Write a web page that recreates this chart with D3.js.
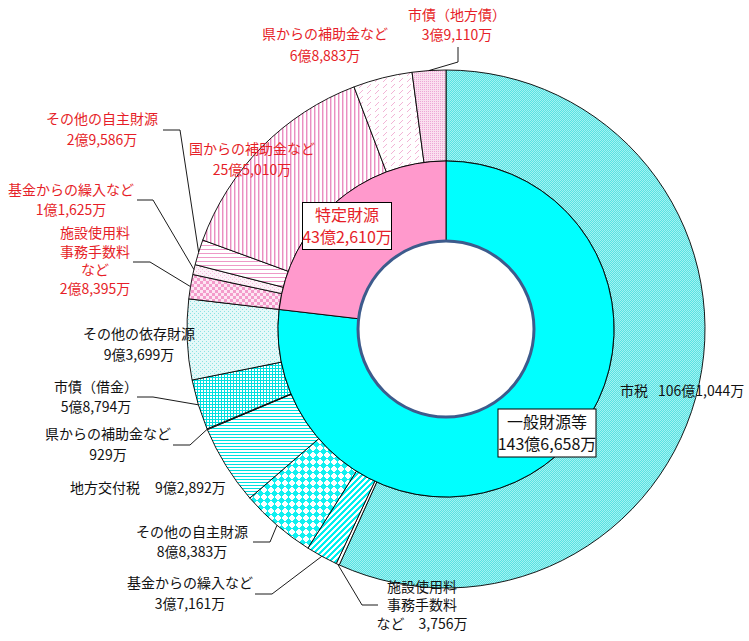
<!DOCTYPE html>
<html lang="ja">
<head>
<meta charset="utf-8">
<title>歳入の内訳</title>
<script src="https://d3js.org/d3.v7.min.js"></script>
<style>
  body { margin: 0; background: #fff; }
  #chart text { font-family: "Noto Sans CJK JP", sans-serif; font-size: 14px; }
</style>
</head>
<body>
<div id="chart"></div>
<script>
"use strict"

// 内側の円 (単位: 億円)
const zaigenNames  = ["一般財源等", "特定財源"];
const zaigenValues = [143.6658, 43.2610];
const zaigenLabels = ["143億6,658万", "43億2,610万"];

// 外側の円 : 12時から時計回り (単位: 億円)
const uchiwakeNames = [
  "市税", "施設使用料\n事務手数料\nなど", "基金からの繰入など", "その他の自主財源",
  "地方交付税", "県からの補助金など", "市債（借金）", "その他の依存財源",
  "施設使用料\n事務手数料\nなど", "基金からの繰入など", "その他の自主財源",
  "国からの補助金など", "県からの補助金など", "市債（地方債）"
];
const uchiwakeValues = [
  106.1044, 0.3756, 3.7161, 8.8383, 9.2892, 0.0929, 5.8794, 9.3699,
  2.8395, 1.1625, 2.9586, 25.5010, 6.8883, 3.9110
];
const uchiwakeLabels = [
  "106億1,044万", "3,756万", "3億7,161万", "8億8,383万", "9億2,892万", "929万",
  "5億8,794万", "9億3,699万", "2億8,395万", "1億1,625万", "2億9,586万",
  "25億5,010万", "6億8,883万", "3億9,110万"
];
const uchiwakeGroup = [0, 0, 0, 0, 0, 0, 0, 0, 1, 1, 1, 1, 1, 1]; // 0=一般財源等 1=特定財源

// 見た目の設定
const W = 749, H = 641;
const cx = 446, cy = 329;
const rHole = 88, rMid = 168, rOut = 259;
const red = "#e61e28", black = "#111";
const zaigenFill = ["#00ffff", "#ff99cc"];
const uchiwakeFill = ["p-shizei", "p-blank", "p-stripe", "p-diamond", "p-hline", "p-blank",
  "p-grid", "p-dots", "p-check", "p-pdots", "p-phline", "p-pvline", "p-pdash", "p-pdense"];

// ラベルの配置 (値のラベルと引出線)
const labelLayout = [
  {i: 0,  x: 620, y: 391, anchor: "start", valueX: 658},
  {i: 1,  x: 422, y: 587, lh: 18.5, join: true},
  {i: 2,  x: 190, y: 583, lh: 21, leader: [[272, 594], [255, 594]]},
  {i: 3,  x: 192, y: 532, lh: 20, leader: [[270, 542], [253, 542]]},
  {i: 4,  x: 70,  y: 488, anchor: "start", valueX: 155},
  {i: 5,  x: 108, y: 434, lh: 21, leader: [[190, 445], [173, 445]]},
  {i: 6,  x: 96,  y: 387, lh: 20, leader: [[153, 397], [137, 397]]},
  {i: 7,  x: 139, y: 334, lh: 21},
  {i: 8,  x: 95,  y: 233, lh: 18.6, leader: [[150, 262], [133, 262]]},
  {i: 9,  x: 71,  y: 190, lh: 20.5, leader: [[153, 200], [137, 200]]},
  {i: 10, x: 102, y: 119, lh: 21, leader: [[180, 130], [163, 130]]},
  {i: 11, x: 252, y: 149, lh: 21},
  {i: 12, x: 325, y: 34,  lh: 22},
  {i: 13, x: 457, y: 15,  lh: 20, leader: [[458, 62], [458, 47]]}
];
// 施設使用料(3,756万)の引出線
const leaderExtra = {1: [[362, 605], [378, 605]]};

const svg = d3.select("#chart").append("svg")
  .attr("width", W).attr("height", H);

// ハッチング模様 : 1ピクセルずつ塗る
const defs = svg.append("defs");
function pat(id, w, h, bg, f) {
  const p = defs.append("pattern").attr("id", id)
    .attr("patternUnits", "userSpaceOnUse").attr("width", w).attr("height", h);
  p.append("rect").attr("width", w).attr("height", h).attr("fill", bg)
    .attr("shape-rendering", "crispEdges");
  for (let y = 0; y < h; y++) {
    for (let x = 0; x < w; x++) {
      const c = f(x, y);
      if (c) p.append("rect").attr("x", x).attr("y", y).attr("width", 1).attr("height", 1)
        .attr("fill", c).attr("shape-rendering", "crispEdges");
    }
  }
}
const cyan = "#00e0e0", pink = "#ee99c8";
pat("p-shizei", 8, 8, "#a2f2f2", (x, y) => (x + y) % 2 === 0 ? "#58e2e2" : null);
pat("p-blank", 4, 4, "#ffffff", () => null);
pat("p-stripe", 12, 12, "#ffffff", (x, y) => ((x + y) % 6) < 3 ? "#00f0f0" : null);
pat("p-diamond", 14, 14, "#ffffff", (x, y) => Math.abs(x % 7 - 3) + Math.abs(y % 7 - 3) <= 3 ? "#10f0f0" : null);
pat("p-hline", 12, 12, "#ffffff", (x, y) => y % 3 === 0 ? cyan : null);
pat("p-grid", 12, 12, "#ffffff", (x, y) => (x % 3 === 0 || y % 3 === 0) ? cyan : null);
pat("p-dots", 8, 8, "#e4f8f8", (x, y) => ((x % 4 === 0 && y % 4 === 0) || (x % 4 === 2 && y % 4 === 2)) ? "#88e2e2" : null);
pat("p-check", 12, 12, "#fde6f3", (x, y) => ((Math.floor(x / 3) + Math.floor(y / 3)) % 2 === 0) ? "#f39ccb" : null);
pat("p-pdots", 8, 8, "#fdf2f8", (x, y) => ((x % 4 === 0 && y % 4 === 0) || (x % 4 === 2 && y % 4 === 2)) ? "#f5bddd" : null);
pat("p-phline", 8, 8, "#ffffff", (x, y) => y % 4 === 0 ? pink : null);
pat("p-pvline", 8, 8, "#ffffff", (x, y) => x % 4 === 0 ? "#e98fc2" : (x % 4 === 1 ? "#f7cde4" : null));
pat("p-pdash", 16, 12, "#ffffff", (x, y) => {
  const u = x % 8, v = y % 6;
  return (v >= 1 && v <= 4 && u === 5 - v) ? "#f2b4d6" : null;
});
pat("p-pdense", 8, 8, "#fae0ef", (x, y) => (x % 2 === 0 && y % 2 === 0) ? "#eea6d6" : null);

const g = svg.append("g").attr("transform", "translate(" + cx + "," + cy + ")");

const pie = d3.pie().sort(null).value(d => d);
const outerArcs = pie(uchiwakeValues);
const innerArcs = pie(zaigenValues);

const arcOuter = d3.arc().innerRadius(rMid).outerRadius(rOut);
const arcInner = d3.arc().innerRadius(rHole).outerRadius(rMid);

g.selectAll("path.outer").data(outerArcs).enter().append("path")
  .attr("class", "outer")
  .attr("d", arcOuter)
  .attr("fill", (d, i) => "url(#" + uchiwakeFill[i] + ")")
  .attr("stroke", "#000").attr("stroke-width", 0.9);

g.selectAll("path.inner").data(innerArcs).enter().append("path")
  .attr("class", "inner")
  .attr("d", arcInner)
  .attr("fill", (d, i) => zaigenFill[i])
  .attr("stroke", "#000").attr("stroke-width", 0.9);

g.append("circle").attr("r", rHole)
  .attr("fill", "#fff").attr("stroke", "#3d5b8c").attr("stroke-width", 3);

// 引出線
const line = d3.line();
labelLayout.forEach(L => {
  const lead = L.leader || leaderExtra[L.i];
  if (!lead) return;
  const a = outerArcs[L.i];
  const p = d3.pointRadial((a.startAngle + a.endAngle) / 2, rOut);
  const pts = [[p[0] + cx, p[1] + cy]].concat(lead);
  svg.append("path").attr("d", line(pts))
    .attr("fill", "none").attr("stroke", "#000").attr("stroke-width", 0.9);
});

// ラベル
labelLayout.forEach(L => {
  const color = uchiwakeGroup[L.i] === 1 ? red : black;
  const t = svg.append("text").attr("fill", color)
    .attr("text-anchor", L.anchor || "middle");
  if (L.valueX) {
    t.append("tspan").attr("x", L.x).attr("y", L.y).attr("dy", "0.35em").text(uchiwakeNames[L.i]);
    t.append("tspan").attr("x", L.valueX).attr("y", L.y).attr("dy", "0.35em").text(uchiwakeLabels[L.i]);
    return;
  }
  const lines = uchiwakeNames[L.i].split("\n");
  if (L.join) lines[lines.length - 1] += "　" + uchiwakeLabels[L.i];
  else lines.push(uchiwakeLabels[L.i]);
  lines.forEach((s, k) => {
    t.append("tspan").attr("x", L.x).attr("y", L.y + k * L.lh).attr("dy", "0.35em").text(s);
  });
});

// 内側の円の枠付きラベル
const boxLayout = [
  {x: 547, y: 433, w: 98, h: 48},
  {x: 347, y: 226, w: 89, h: 47}
];
boxLayout.forEach((b, i) => {
  svg.append("rect")
    .attr("x", b.x - b.w / 2).attr("y", b.y - b.h / 2)
    .attr("width", b.w).attr("height", b.h)
    .attr("fill", "#fff").attr("stroke", "#000").attr("stroke-width", 1);
  const t = svg.append("text").attr("text-anchor", "middle")
    .attr("fill", i === 1 ? red : black).style("font-size", "16px");
  t.append("tspan").attr("x", b.x).attr("y", b.y - 11).attr("dy", "0.35em").text(zaigenNames[i]);
  t.append("tspan").attr("x", b.x).attr("y", b.y + 11).attr("dy", "0.35em").text(zaigenLabels[i]);
});
</script>
</body>
</html>
